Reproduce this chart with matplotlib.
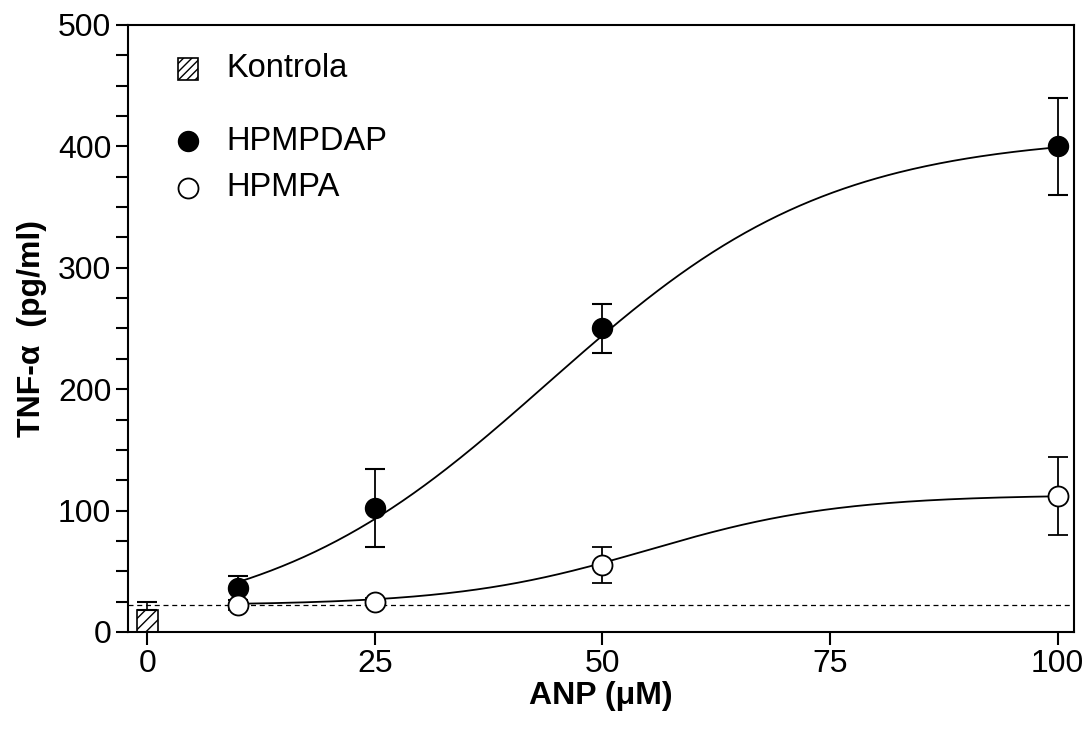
import numpy as np
import matplotlib
matplotlib.use('Agg')
from matplotlib import pyplot as plt

plt.rcParams['font.family'] = ['Liberation Sans', 'DejaVu Sans']

# measured points
conc = [10, 25, 50, 100]
dap_mean = [36, 102, 250, 400]
dap_err = [10, 32, 20, 40]
hpmpa_mean = [22, 25, 55, 112]
hpmpa_err = [4, 3, 15, 32]
ctrl_mean = 18
ctrl_err = 6.5
baseline = 22

# sigmoid fit parameters (bottom, top, x50, slope)
dap_fit = [0, 410, 44, 15.5]
hpmpa_fit = [22, 113, 55, 10.5]


def boltzmann(x, b, t, x0, s):
  return b + (t - b) / (1 + np.exp((x0 - x) / s))


fig = plt.figure(figsize=(10.86, 7.33), dpi=100)
ax = fig.add_axes([0.1179, 0.1378, 0.8711, 0.8282])

ax.axhline(baseline, color='k', lw=0.9, ls=(0, (4, 3)), zorder=1)

ax.bar(0, ctrl_mean, width=2.3, color='white', edgecolor='k', hatch='///', lw=1.2, zorder=2)
ax.errorbar(0, ctrl_mean, yerr=[[0], [ctrl_err]], fmt='none', ecolor='k', capsize=7.5, elinewidth=1.2, capthick=1.5, zorder=3)

xs = np.linspace(10, 100, 300)
ax.plot(xs, boltzmann(xs, *dap_fit), color='k', lw=1.3, zorder=3)
ax.plot(xs, boltzmann(xs, *hpmpa_fit), color='k', lw=1.3, zorder=3)

ax.errorbar(conc, dap_mean, yerr=dap_err, fmt='o', color='k', mfc='k', mec='k', ms=14.4,
            capsize=7.5, elinewidth=1.3, capthick=1.5, zorder=4)
ax.errorbar(conc, hpmpa_mean, yerr=hpmpa_err, fmt='o', color='k', mfc='white', mec='k', ms=14.4,
            mew=1.3, capsize=7.5, elinewidth=1.3, capthick=1.5, zorder=4)

ax.set_xlim(-2.1, 101.8)
ax.set_ylim(0, 500)
ax.set_xticks([0, 25, 50, 75, 100])
ax.set_yticks([0, 100, 200, 300, 400, 500])
ax.set_yticks(np.arange(0, 501, 25), minor=True)
ax.tick_params(axis='both', direction='out', labelsize=23, length=9, width=1.5, colors='k', pad=3)
ax.tick_params(axis='y', which='minor', length=9, width=1.5)
for s in ['left', 'bottom', 'right', 'top']:
  ax.spines[s].set_linewidth(1.5)

ax.set_xlabel('ANP (μM)', fontsize=23, fontweight='bold', labelpad=2)
ax.set_ylabel('TNF-α  (pg/ml)', fontsize=23, fontweight='bold', labelpad=8)

# legend drawn by hand
ax.bar(4.5, 18, width=2.2, bottom=455, color='white', edgecolor='k', hatch='////', lw=1.2)
ax.plot(4.5, 404, 'o', color='k', ms=14.4)
ax.plot(4.5, 366, 'o', mfc='white', mec='k', ms=14.4, mew=1.3)
ax.text(8.7, 464, 'Kontrola', fontsize=23.5, va='center')
ax.text(8.7, 404, 'HPMPDAP', fontsize=23.5, va='center')
ax.text(8.7, 366, 'HPMPA', fontsize=23.5, va='center')

fig.savefig('out.png', dpi=100)
